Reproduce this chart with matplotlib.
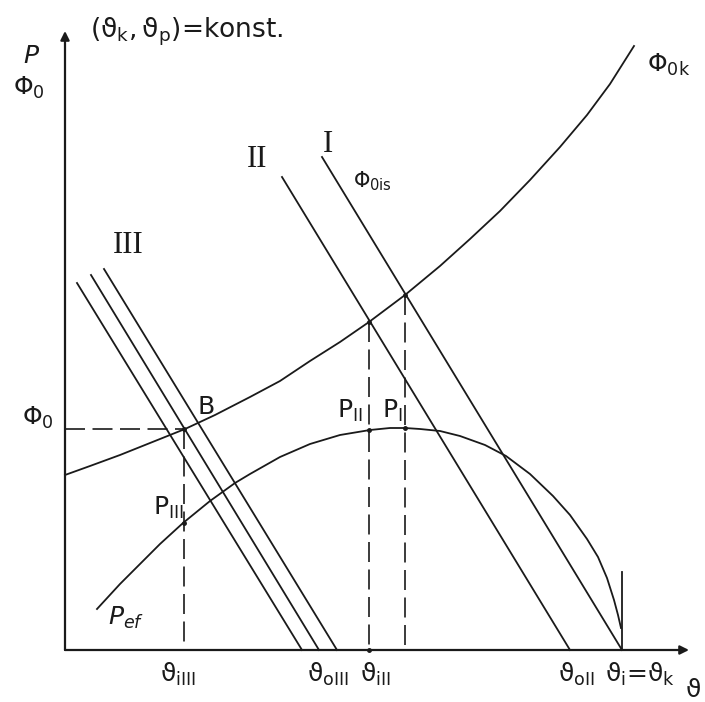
import matplotlib
matplotlib.use("Agg")
import matplotlib.pyplot as plt

plt.rcParams['mathtext.fontset'] = 'dejavusans'
plt.rcParams['font.family'] = ['DejaVu Sans']

# ---- data (schematic units: origin at axis crossing) ----
# Phi_0k curve (cooling capacity of compressor)
phi0k_x = [0, 25, 55, 85, 120, 150, 185, 215, 245, 275, 304, 340, 375, 405, 435, 465, 495, 522, 545, 569]
phi0k_y = [175, 184, 195, 207, 221, 235, 253, 269, 289, 308, 328, 355, 384, 411, 439, 470, 503, 535, 566, 604]

# P_ef curve (effective power)
pef_x = [32, 55, 75, 95, 118, 145, 170, 185, 215, 245, 275, 305, 325, 340, 355, 375, 395, 420,
         441, 465, 488, 505, 522, 533, 542, 549, 553, 556]
pef_y = [41, 66, 86, 106, 127, 149, 167, 176, 193, 206, 215, 220, 222, 222, 221, 219, 214, 205,
         194, 176, 154, 135, 111, 93, 72, 50, 35, 22]

# evaporator characteristic lines (Phi_0is) : (x_start, y_start, x_end, y_end)
line_I = [257, 493, 557, 0]
line_II = [217, 473, 505, 0]
lines_III = [[12, 367, 237, 0], [26, 375, 254, 0], [39, 381, 272, 0]]

# operating points
B_x, B_y = 119, 221
PIII_y = 127
xII, yII_top, PII_y = 304, 328, 220
xI, yI_top, PI_y = 340, 355, 222
x_end, vline_top = 557, 78

fig = plt.figure(figsize=(7.05, 7.02), dpi=100)
ax = fig.add_axes([0, 0, 1, 1])
ax.set_xlim(-65, 640)
ax.set_ylim(-52, 650)
ax.axis('off')

lw = 1.3
col = '#1a1a1a'

# axes with arrows
ax.annotate('', xy=(0, 619), xytext=(0, 0),
            arrowprops=dict(arrowstyle='-|>', color=col, lw=1.6, mutation_scale=13, shrinkA=0, shrinkB=0))
ax.annotate('', xy=(624, 0), xytext=(0, 0),
            arrowprops=dict(arrowstyle='-|>', color=col, lw=1.6, mutation_scale=13, shrinkA=0, shrinkB=0))

# curves
ax.plot(phi0k_x, phi0k_y, color=col, lw=lw, solid_joinstyle='round')
ax.plot(pef_x, pef_y, color=col, lw=lw, solid_joinstyle='round')

for ln in [line_I, line_II] + lines_III:
    ax.plot([ln[0], ln[2]], [ln[1], ln[3]], color=col, lw=lw)

# vertical line at theta_k
ax.plot([x_end, x_end], [0, vline_top], color=col, lw=lw)

# dashed helper lines
dash = (0, (12, 4.5))
ax.plot([0, B_x], [B_y, B_y], color=col, lw=1.2, linestyle=dash)
ax.plot([B_x, B_x], [B_y, 0], color=col, lw=1.2, linestyle=dash)
ax.plot([xII, xII], [yII_top, 0], color=col, lw=1.2, linestyle=dash)
ax.plot([xI, xI], [yI_top, 0], color=col, lw=1.2, linestyle=dash)

# dots at intersections
ax.plot([B_x, B_x, xII, xI, xII, xI, xII], [B_y, PIII_y, yII_top, yI_top, PII_y, PI_y, 0],
        'o', color=col, ms=2.5)

fs = 18
# labels
ax.text(25, 612, r'$(\mathrm{\vartheta}_{\mathrm{k}},\mathrm{\vartheta}_{\mathrm{p}})$=konst.',
        fontsize=19, ha='left', va='baseline', color=col)
ax.text(-42, 587, r'$P$', fontsize=fs, ha='left', va='baseline', color=col)
ax.text(-52, 555, r'$\Phi_{0}$', fontsize=fs, ha='left', va='baseline', color=col)
ax.text(-43, 225, r'$\Phi_{0}$', fontsize=fs, ha='left', va='baseline', color=col)
ax.text(582, 578, r'$\Phi_{0\mathrm{k}}$', fontsize=fs, ha='left', va='baseline', color=col)
ax.text(288, 463, r'$\Phi_{0\mathrm{is}}$', fontsize=15, ha='left', va='baseline', color=col)

ax.text(263, 498, 'I', fontsize=22, family='Liberation Serif', ha='center', va='baseline', color=col)
ax.text(182, 483, 'II', fontsize=22, family='Liberation Serif', ha='left', va='baseline', color=col)
ax.text(48, 397, 'III', fontsize=22, family='Liberation Serif', ha='left', va='baseline', color=col)

ax.text(132, 236, 'B', fontsize=fs, ha='left', va='baseline', color=col)
ax.text(272, 232, r'$\mathrm{P}_{\mathrm{II}}$', fontsize=fs, ha='left', va='baseline', color=col)
ax.text(317, 232, r'$\mathrm{P}_{\mathrm{I}}$', fontsize=fs, ha='left', va='baseline', color=col)
ax.text(88, 135, r'$\mathrm{P}_{\mathrm{III}}$', fontsize=fs, ha='left', va='baseline', color=col)
ax.text(43, 25, r'$P_{ef}$', fontsize=fs, ha='left', va='baseline', color=col)

ax.text(95, -32, r'$\mathrm{\vartheta}_{\mathrm{iIII}}$', fontsize=fs, ha='left', va='baseline', color=col)
ax.text(242, -32, r'$\mathrm{\vartheta}_{\mathrm{oIII}}$', fontsize=fs, ha='left', va='baseline', color=col)
ax.text(295, -32, r'$\mathrm{\vartheta}_{\mathrm{iII}}$', fontsize=fs, ha='left', va='baseline', color=col)
ax.text(493, -32, r'$\mathrm{\vartheta}_{\mathrm{oII}}$', fontsize=fs, ha='left', va='baseline', color=col)
ax.text(540, -32, r'$\mathrm{\vartheta}_{\mathrm{i}}$=$\mathrm{\vartheta}_{\mathrm{k}}$', fontsize=fs,
        ha='left', va='baseline', color=col)
ax.text(620, -47, r'$\mathrm{\vartheta}$', fontsize=fs, ha='left', va='baseline', color=col)

fig.savefig('out.png', dpi=100, facecolor='white')
